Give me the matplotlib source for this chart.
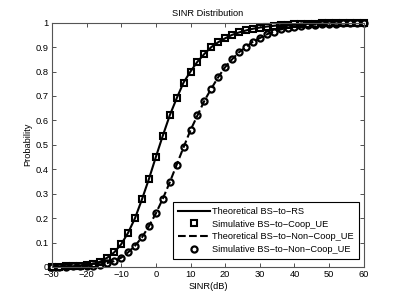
import numpy as np
import matplotlib
matplotlib.use("Agg")
import matplotlib.pyplot as plt
from matplotlib.ticker import FixedLocator, FuncFormatter

plt.rcParams['font.family'] = ['Liberation Sans', 'DejaVu Sans']

sinr_db = list(range(-30, 61, 2))
coop_cdf = [0.001, 0.0015, 0.002, 0.003, 0.005, 0.008, 0.013, 0.022, 0.038, 0.06,
            0.093, 0.14, 0.2, 0.277, 0.36, 0.45, 0.537, 0.62, 0.69, 0.755,
            0.80, 0.84, 0.872, 0.90, 0.92, 0.936, 0.95, 0.96, 0.968, 0.975,
            0.98, 0.984, 0.987, 0.99, 0.992, 0.993, 0.994, 0.995, 0.996, 0.997,
            0.997, 0.998, 0.998, 0.998, 0.999, 0.999]
noncoop_cdf = [0.0005, 0.001, 0.0015, 0.002, 0.003, 0.004, 0.006, 0.01, 0.016, 0.024,
               0.038, 0.06, 0.087, 0.121, 0.167, 0.219, 0.279, 0.346, 0.418, 0.49,
               0.56, 0.62, 0.68, 0.73, 0.777, 0.818, 0.85, 0.879, 0.90, 0.922,
               0.937, 0.952, 0.963, 0.972, 0.978, 0.983, 0.987, 0.99, 0.992, 0.994,
               0.995, 0.996, 0.997, 0.998, 0.998, 0.999]
labels = ['Theoretical BS\u2212to\u2212RS', 'Simulative BS\u2212to\u2212Coop_UE',
          'Theoretical BS\u2212to\u2212Non\u2212Coop_UE', 'Simulative BS\u2212to\u2212Non\u2212Coop_UE']
x_ticks = [-30, -20, -10, 0, 10, 20, 30, 40, 50, 60]
y_ticks = [0, 0.1, 0.2, 0.3, 0.4, 0.5, 0.6, 0.7, 0.8, 0.9, 1]

FS = 6.7

fig = plt.figure(figsize=(4.02, 3.02), dpi=100)
ax = fig.add_axes([0.129, 0.116, 0.776, 0.809])

ax.plot(sinr_db, coop_cdf, '-', color='k', lw=1.5, label=labels[0])
ax.plot(sinr_db, coop_cdf, 's', color='k', ms=4.0, mfc='none', mew=1.5, ls='none',
        label=labels[1], clip_on=False)
ax.plot(sinr_db, noncoop_cdf, '--', color='k', lw=1.5, label=labels[2])
ax.plot(sinr_db, noncoop_cdf, 'o', color='k', ms=4.4, mfc='none', mew=1.6, ls='none',
        label=labels[3], clip_on=False)

ax.set_xlim(-30, 60)
ax.set_ylim(0, 1)
ax.xaxis.set_major_locator(FixedLocator(x_ticks))
ax.yaxis.set_major_locator(FixedLocator(y_ticks))
ax.yaxis.set_major_formatter(FuncFormatter(lambda v, p: ('%g' % v)))
ax.xaxis.set_major_formatter(FuncFormatter(lambda v, p: ('%g' % v).replace('-', '\u2212')))
ax.tick_params(direction='in', top=True, right=True, labelsize=FS, length=3, width=0.6,
               colors='#333333', labelcolor='k', pad=2.5)
for s in ax.spines.values():
    s.set_linewidth(0.8)
    s.set_color('#555555')

ax.set_xlabel('SINR(dB)', fontsize=FS, labelpad=1.5)
ax.set_ylabel('Probability', fontsize=FS, labelpad=2)
ax.set_title('SINR Distribution', fontsize=FS, pad=5)

leg = ax.legend(loc='lower right', bbox_to_anchor=(0.984, 0.033), fontsize=FS,
                frameon=True, fancybox=False, edgecolor='k', borderpad=0.55,
                labelspacing=0.38, handlelength=3.4, handletextpad=0.25,
                borderaxespad=0.0, framealpha=1)
leg.get_frame().set_linewidth(0.8)

fig.savefig('out.png', dpi=100)
